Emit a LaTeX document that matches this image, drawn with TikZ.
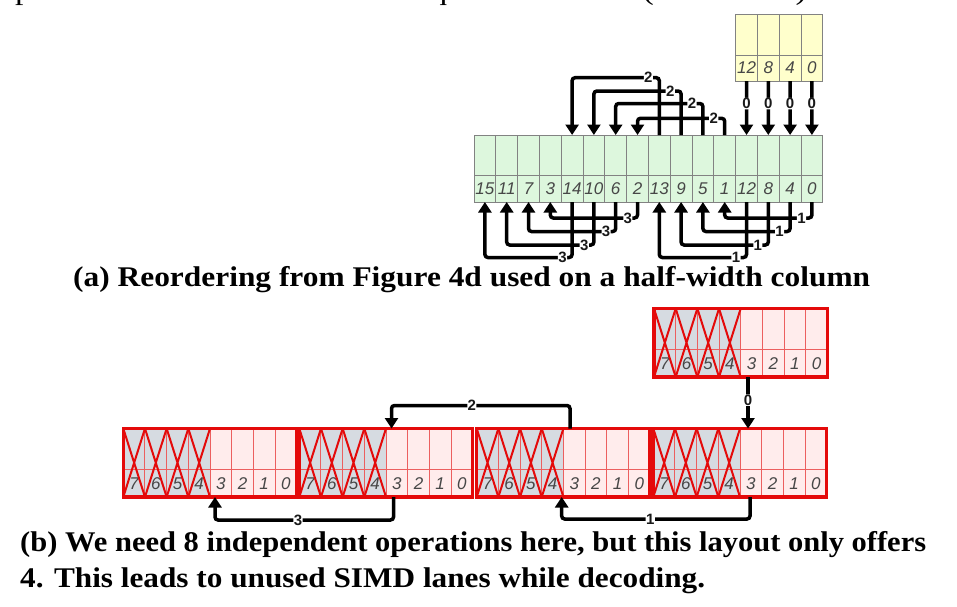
\documentclass[tikz,border=0pt]{standalone}
\usepackage{fontspec}
\setmainfont{Liberation Serif}
\newfontfamily\lsans{Liberation Sans}
\usetikzlibrary{arrows.meta,calc}
\definecolor{gfill}{RGB}{221,247,221}
\definecolor{yfill}{RGB}{255,255,204}
\definecolor{cellgray}{RGB}{130,130,130}
\definecolor{pinkfill}{RGB}{255,236,236}
\definecolor{greyfill}{RGB}{214,219,225}
\definecolor{redmain}{RGB}{228,10,10}
\definecolor{redlight}{RGB}{236,95,95}
\newcommand\fitto[2]{\setbox0\hbox{#2}\pgfmathsetmacro\fitratio{#1/\wd0}\scalebox{\fitratio}[1]{\box0}}
\begin{document}
\begin{tikzpicture}[x=1pt,y=-1pt,
  gcell/.style={draw=cellgray,line width=0.9pt,fill=gfill},
  ycell/.style={draw=cellgray,line width=0.9pt,fill=yfill},
  gline/.style={draw=cellgray,line width=0.9pt},
  cellnum/.style={font=\lsans\itshape\fontsize{17}{17}\selectfont,text=black!72,inner sep=0pt},
  arr/.style={line width=3.5pt,-{Triangle[width=13pt,length=10.5pt]},rounded corners=3pt},
  lab/.style={fill=white,inner sep=0.4pt,font=\lsans\bfseries\fontsize{15}{15}\selectfont,text=black!90},
  redthin/.style={draw=redlight,line width=1pt},
  redx/.style={draw=redmain,line width=2pt},
  redthick/.style={draw=redmain,line width=3.3pt},
  capfont/.style={font=\bfseries\fontsize{28.5}{34}\selectfont,inner sep=0pt}]
\useasboundingbox (0,0) rectangle (957,606);

% cut-off line of text at the top
\node[anchor=base west,inner sep=0pt,font=\fontsize{28.5}{34}\selectfont] (toptext) at (15,-1) {\fitto{800}{per-value cost thanks to fast sequential access (and SIMD).}};

% ---------------- (a) ----------------
\foreach \lab [count=\i from 0] in {15,11,7,3,14,10,6,2,13,9,5,1,12,8,4,0} {
  \pgfmathsetmacro\xa{474+21.8*\i}
  \draw[gcell] (\xa,135) rectangle ++(21.8,67);
  \draw[gline] (\xa,175) -- ++(21.8,0);
  \node[cellnum] (g\i) at (\xa+10.9,188.5) {\lab};
  \coordinate (gt\i) at (\xa+10.9,135);
  \coordinate (gb\i) at (\xa+10.9,202);
}
\foreach \lab [count=\j from 0] in {12,8,4,0} {
  \pgfmathsetmacro\xa{735.6+21.8*\j}
  \draw[ycell] (\xa,14) rectangle ++(21.8,67);
  \draw[gline] (\xa,55) -- ++(21.8,0);
  \node[cellnum] (y\j) at (\xa+10.9,68) {\lab};
  \coordinate (yb\j) at (\xa+10.9,81);
}
\foreach \j in {0,...,3} {
  \pgfmathtruncatemacro\k{12+\j}
  \draw[arr] (yb\j) -- node[lab,pos=0.42] {0} (gt\k);
}
\foreach \s/\t/\yy in {8/4/77.7,9/5/91,10/6/103.5,11/7/118.3} {
  \draw[arr] (gt\s) -- (gt\s |- 0,\yy) -- node[lab,pos=0.125] {2} (gt\t |- 0,\yy) -- (gt\t);
}
\foreach \s/\t/\yy in {4/0/257.5,5/1/245,6/2/231.5,7/3/218} {
  \draw[arr] (gb\s) -- (gb\s |- 0,\yy) -- node[lab,pos=0.11] {3} (gb\t |- 0,\yy) -- (gb\t);
}
\foreach \s/\t/\yy in {12/8/257.5,13/9/245,14/10/231.5,15/11/218} {
  \draw[arr] (gb\s) -- (gb\s |- 0,\yy) -- node[lab,pos=0.12] {1} (gb\t |- 0,\yy) -- (gb\t);
}
\node[capfont,anchor=base west] (capa) at (73,286.5) {\fitto{797}{(a) Reordering from Figure 4d used on a half-width column}};

% ---------------- (b) ----------------
\foreach \nm/\X/\Y in {T/654/308.5,A/123.3/428.5,B/299.3/428.5,C/476.7/428.5,D/653.3/428.5} {
  \fill[greyfill] (\X,\Y) rectangle ++(86.7,68.5);
  \fill[pinkfill] (\X+86.7,\Y) rectangle ++(86.7,68.5);
  \foreach \j in {1,...,7} \draw[redthin] (\X+21.675*\j,\Y) -- ++(0,68.5);
  \draw[redthin] (\X,\Y+41) -- ++(173.4,0);
  \foreach \lab [count=\j from 0] in {7,6,5,4,3,2,1,0}
    \node[cellnum] (\nm\lab) at (\X+21.675*\j+10.84,\Y+55) {\lab};
  \foreach \j in {0,...,3}
    \draw[redx] (\X+21.675*\j,\Y) -- ++(21.675,68.5) (\X+21.675*\j+21.675,\Y) -- ++(-21.675,68.5);
  \draw[redthick] (\X,\Y) rectangle ++(173.4,68.5);
}
\coordinate (Tb) at (748,377);
\coordinate (Dt) at (748,428.5);
\coordinate (Db) at (750,497);
\coordinate (Ct) at (570,428.5);
\coordinate (Cb) at (561.7,497);
\coordinate (Bt) at (391.5,428.5);
\coordinate (Bb) at (393.5,497);
\coordinate (Ab) at (215,497);
\draw[arr] (Tb) -- node[lab,pos=0.45] {0} (Dt);
\draw[arr] (Ct) -- (Ct |- 0,405.5) -- node[lab,pos=0.55] {2} (Bt |- 0,405.5) -- (Bt);
\draw[arr] (Bb) -- (Bb |- 0,520) -- node[lab,pos=0.535] {3} (Ab |- 0,520) -- (Ab);
\draw[arr] (Db) -- (Db |- 0,519) -- node[lab,pos=0.53] {1} (Cb |- 0,519) -- (Cb);

\node[capfont,anchor=base west] (capb1) at (20,551) {\fitto{906}{(b) We need 8 independent operations here, but this layout only offers}};
\node[capfont,anchor=base west] (capb2) at (20,587) {\fitto{685}{4. This leads to unused SIMD lanes while decoding.}};
\end{tikzpicture}
\end{document}
